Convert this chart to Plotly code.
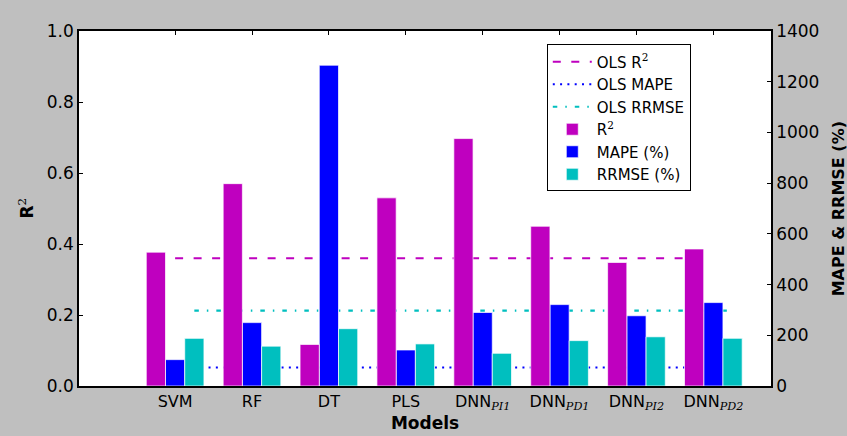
import plotly.graph_objects as go

models = ["SVM", "RF", "DT", "PLS",
          "DNN<sub><span style='font-family:DejaVu Serif'><i>PI1</i></span></sub>",
          "DNN<sub><span style='font-family:DejaVu Serif'><i>PD1</i></span></sub>",
          "DNN<sub><span style='font-family:DejaVu Serif'><i>PI2</i></span></sub>",
          "DNN<sub><span style='font-family:DejaVu Serif'><i>PD2</i></span></sub>"]
r2 = [0.377, 0.57, 0.117, 0.53, 0.697, 0.45, 0.348, 0.386]
mape = [104, 250, 1265, 142, 290, 321, 277, 329]
rrmse = [188, 157, 226, 166, 129, 179, 194, 188]
ols_r2 = 0.36
ols_mape = 73
ols_rrmse = 297

idx = list(range(len(models)))
MAG = "#bf00bf"
BLU = "#0000ff"
CYA = "#00bfbf"
FONT = "DejaVu Sans"
sup2 = "<sup><span style='font-family:DejaVu Serif'>2</span></sup>"

fig = go.Figure()

# OLS reference lines (drawn beneath bars)
fig.add_trace(go.Scatter(x=[idx[0] + 0.0, idx[-1] - 0.38], y=[ols_r2, ols_r2], mode="lines",
                         name="OLS R" + sup2, line=dict(color=MAG, width=2, dash="8px,10.5px"),
                         xaxis="x", yaxis="y"))
fig.add_trace(go.Scatter(x=[idx[0] + 0.15, idx[-1] - 0.15], y=[ols_mape, ols_mape], mode="lines",
                         name="OLS MAPE", line=dict(color=BLU, width=2.2, dash="2px,5.3px"),
                         xaxis="x", yaxis="y2"))
fig.add_trace(go.Scatter(x=[idx[0] + 0.25, idx[-1] + 0.18], y=[ols_rrmse, ols_rrmse], mode="lines",
                         name="OLS RRMSE", line=dict(color=CYA, width=2.2, dash="4.5px,8px,1.5px,8px"),
                         xaxis="x", yaxis="y2"))

W = 0.25
edge = dict(color="rgba(255,255,255,0.7)", width=1)
fig.add_trace(go.Bar(x=idx, y=r2, width=W, offset=-1.5 * W, name="R" + sup2,
                     marker=dict(color=MAG, line=edge), xaxis="x", yaxis="y4"))
fig.add_trace(go.Bar(x=idx, y=mape, width=W, offset=-0.5 * W, name="MAPE (%)",
                     marker=dict(color=BLU, line=edge), xaxis="x", yaxis="y3"))
fig.add_trace(go.Bar(x=idx, y=rrmse, width=W, offset=0.5 * W, name="RRMSE (%)",
                     marker=dict(color=CYA, line=edge), xaxis="x", yaxis="y3"))

axis_common = dict(showgrid=False, zeroline=False, linecolor="black", linewidth=1.5,
                   ticks="inside", ticklen=4, tickcolor="black", automargin=False,
                   tickfont=dict(family=FONT, size=17, color="black"))

fig.update_layout(
    width=847, height=436,
    paper_bgcolor="#bfbfbf", plot_bgcolor="white",
    margin=dict(l=79, r=76, t=31, b=50),
    font=dict(family=FONT, color="black"),
    barmode="overlay",
    showlegend=True,
    legend=dict(x=0.676, y=0.962, xanchor="left", yanchor="top",
                bgcolor="white", bordercolor="black", borderwidth=1,
                font=dict(family=FONT, size=15), tracegroupgap=0, itemwidth=39),
    xaxis=dict(range=[-1.25, 7.75], tickvals=idx, ticktext=models, showgrid=False,
               zeroline=False, showline=True, linecolor="black", linewidth=1.5, mirror="ticks",
               ticks="inside", ticklen=4, tickcolor="black", layer="below traces",
               automargin=False, tickfont=dict(family=FONT, size=16, color="black"),
               title=dict(text="<b>Models</b>", font=dict(family=FONT, size=17), standoff=4)),
    yaxis=dict(range=[0, 1], tickvals=[0, 0.2, 0.4, 0.6, 0.8, 1.0],
               ticktext=["0.0", "0.2", "0.4", "0.6", "0.8", "1.0"], showline=True,
               **axis_common),
    yaxis2=dict(range=[0, 1400], overlaying="y", side="right", visible=False),
    yaxis3=dict(range=[0, 1400], overlaying="y", side="right", showline=True,
                tickvals=[0, 200, 400, 600, 800, 1000, 1200, 1400],
                **axis_common),
    yaxis4=dict(range=[0, 1], overlaying="y", visible=False),
    annotations=[
        dict(text="<b>R</b>" + sup2, xref="paper", yref="paper", x=-0.078, y=0.5,
             xanchor="center", yanchor="middle", textangle=-90, showarrow=False,
             font=dict(family=FONT, size=17, color="black")),
        dict(text="<b>MAPE & RRMSE (%)</b>", xref="paper", yref="paper", x=1.098, y=0.5,
             xanchor="center", yanchor="middle", textangle=-90, showarrow=False,
             font=dict(family=FONT, size=16, color="black")),
    ],
)

fig.write_html("out.html", config={"displayModeBar": False},
               post_script="document.body.style.margin='0px';")
